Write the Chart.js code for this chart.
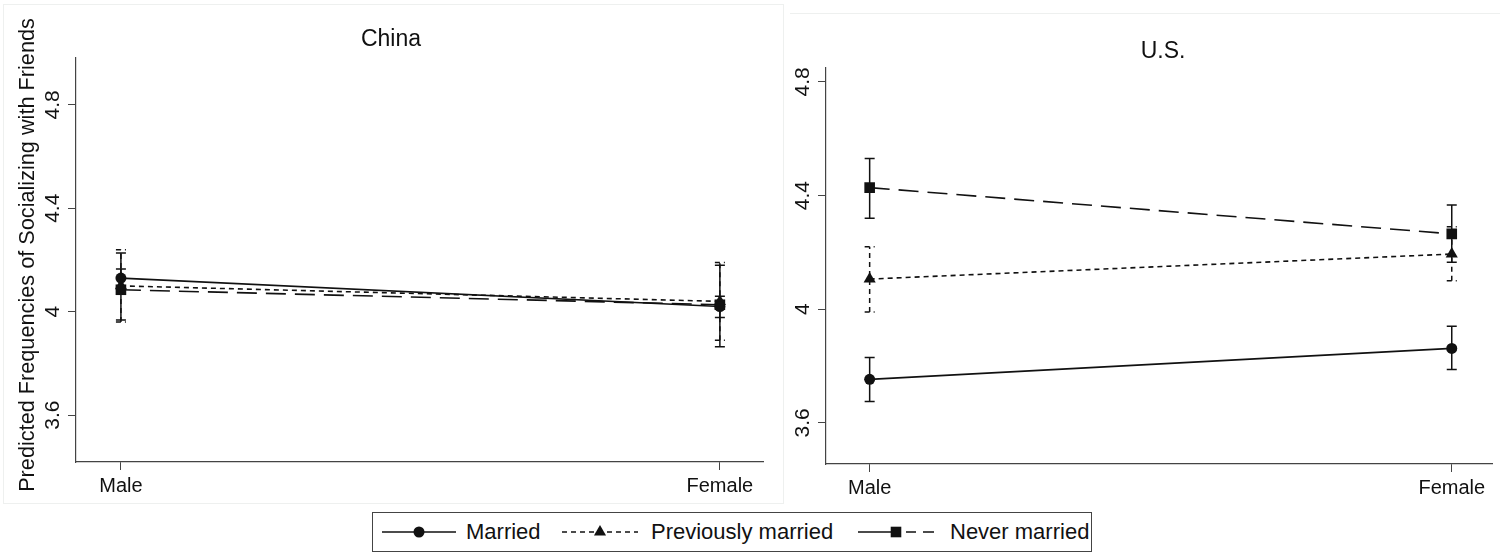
<!DOCTYPE html>
<html>
<head>
<meta charset="utf-8">
<script src="https://cdn.jsdelivr.net/npm/chart.js@4/dist/chart.umd.min.js"></script>
<style>
  html, body { margin: 0; padding: 0; background: #fff; }
  body { width: 1500px; height: 555px; position: relative; overflow: hidden;
         font-family: "Liberation Sans", Arial, Helvetica, sans-serif; color: #111; }
  .wrap { position: absolute; top: 0; height: 555px; }
  #chinaWrap { left: 0; width: 780px; }
  #usWrap { left: 780px; width: 720px; }
  .frame { position: absolute; box-sizing: border-box; }
  #chinaFrame { left: 3px; top: 4px; width: 781px; height: 500px; border: 1px solid #eef0ef; }
  #usFrame { left: 790px; top: 13px; width: 712px; height: 500px; border-top: 1px solid #eef0ef; }
  #legend { position: absolute; left: 372px; top: 512px; width: 720px; height: 40px;
            box-sizing: border-box; border: 1px solid #444; background: #fff; }
  #legend .item { position: absolute; top: 0; height: 38px; display: flex; align-items: center; }
  #legend .txt { font-size: 22px; white-space: nowrap; color: #111; }
  #legend canvas { display: block; }
</style>
</head>
<body>
<div class="frame" id="chinaFrame"></div>
<div class="frame" id="usFrame"></div>
<div class="wrap" id="chinaWrap"><canvas id="china" width="780" height="555"></canvas></div>
<div class="wrap" id="usWrap"><canvas id="us" width="720" height="555"></canvas></div>
<div id="legend"></div>
<script>
// Categories and tick labels
const categories = ['Male', 'Female'];
const yTicks = [3.6, 4, 4.4, 4.8];
const seriesNames = ['Married', 'Previously married', 'Never married'];
const yAxisTitle = 'Predicted Frequencies of Socializing with Friends';

// China: predicted values with 95% confidence limits
const chinaMarried   = [4.13, 4.02];
const chinaMarriedLo = [4.095, 3.978];
const chinaMarriedHi = [4.165, 4.06];
const chinaPrev      = [4.10, 4.04];
const chinaPrevLo    = [3.96, 3.89];
const chinaPrevHi    = [4.24, 4.19];
const chinaNever     = [4.085, 4.027];
const chinaNeverLo   = [3.968, 3.865];
const chinaNeverHi   = [4.227, 4.18];

// U.S.: predicted values with 95% confidence limits
const usMarried   = [3.753, 3.862];
const usMarriedLo = [3.675, 3.788];
const usMarriedHi = [3.83, 3.94];
const usPrev      = [4.106, 4.194];
const usPrevLo    = [3.99, 4.10];
const usPrevHi    = [4.22, 4.29];
const usNever     = [4.428, 4.265];
const usNeverLo   = [4.32, 4.165];
const usNeverHi   = [4.53, 4.367];

// Line styles for the three marital-status groups
const styles = [
  { dash: [], errDash: [], keyDash: [], point: 'circle', radius: 5.5 },
  { dash: [5, 4], errDash: [5, 4], keyDash: [5, 4], point: 'triangle', radius: 7 },
  { dash: [20, 9], errDash: [], keyDash: [43, 5, 10, 7, 12], point: 'rect', radius: 7.5 }
];

const INK = '#111';
const AXIS = '#444';
const FONT = '"Liberation Sans", Arial, Helvetica, sans-serif';

function buildDatasets(vals, los, his) {
  return vals.map((v, s) => ({
    label: seriesNames[s],
    data: v.map((y, i) => ({ x: i, y })),
    errLo: los[s],
    errHi: his[s],
    errDash: styles[s].errDash,
    borderColor: INK,
    backgroundColor: INK,
    borderWidth: 1.6,
    borderDash: styles[s].dash,
    pointStyle: styles[s].point,
    pointRadius: styles[s].radius,
    pointHoverRadius: styles[s].radius,
    pointBackgroundColor: INK,
    pointBorderColor: INK,
    pointBorderWidth: 0,
    tension: 0,
    fill: false
  }));
}

// Capped confidence intervals drawn beneath the lines and markers
const errorBars = {
  id: 'errorBars',
  beforeDatasetsDraw(chart) {
    const { ctx, scales: { x, y } } = chart;
    ctx.save();
    ctx.strokeStyle = INK;
    ctx.lineWidth = 1.5;
    chart.data.datasets.forEach(ds => {
      ctx.setLineDash(ds.errDash || []);
      ds.data.forEach((pt, i) => {
        const px = x.getPixelForValue(pt.x);
        const yl = y.getPixelForValue(ds.errLo[i]);
        const yh = y.getPixelForValue(ds.errHi[i]);
        ctx.beginPath();
        ctx.moveTo(px, yl); ctx.lineTo(px, yh);
        ctx.moveTo(px - 5, yl); ctx.lineTo(px + 5, yl);
        ctx.moveTo(px - 5, yh); ctx.lineTo(px + 5, yh);
        ctx.stroke();
      });
    });
    ctx.restore();
  }
};

// Vertical tick labels on the y axis, panel title and optional axis title
const decorations = {
  id: 'decorations',
  afterDraw(chart, args, opts) {
    const { ctx, scales: { y } } = chart;
    ctx.save();
    ctx.fillStyle = INK;
    ctx.font = '21px ' + FONT;
    ctx.textAlign = 'center';
    ctx.textBaseline = 'middle';
    y.ticks.forEach(t => {
      const py = y.getPixelForValue(t.value);
      ctx.save();
      ctx.translate(y.right - 23, py);
      ctx.rotate(-Math.PI / 2);
      ctx.fillText(String(t.value), 0, 0);
      ctx.restore();
    });
    ctx.font = '23px ' + FONT;
    ctx.fillText(opts.title, opts.titleX, opts.titleY);
    if (opts.axisTitle) {
      ctx.font = '21.7px ' + FONT;
      ctx.save();
      ctx.translate(opts.axisTitleX, opts.axisTitleY);
      ctx.rotate(-Math.PI / 2);
      ctx.fillText(opts.axisTitle, 0, 0);
      ctx.restore();
    }
    ctx.restore();
  }
};

function makePanel(id, g, datasets, deco) {
  return new Chart(document.getElementById(id), {
    type: 'line',
    data: { datasets },
    plugins: [errorBars, decorations],
    options: {
      responsive: false,
      animation: false,
      events: [],
      layout: { padding: { left: 0, right: g.padRight, top: g.top, bottom: g.padBottom } },
      plugins: {
        legend: { display: false },
        title: { display: false },
        tooltip: { enabled: false },
        decorations: deco
      },
      scales: {
        x: {
          type: 'linear',
          min: g.xMin, max: g.xMax,
          afterBuildTicks: s => { s.ticks = categories.map((c, i) => ({ value: i })); },
          afterFit: s => { s.height = g.xAxisHeight; },
          ticks: {
            callback: (v, i) => categories[i],
            autoSkip: false, maxRotation: 0, minRotation: 0,
            padding: 4, color: INK, font: { family: FONT, size: 20 }
          },
          grid: { drawOnChartArea: false, drawTicks: true, tickLength: 8, color: AXIS, lineWidth: 1 },
          border: { display: true, color: AXIS, width: 1.2 }
        },
        y: {
          type: 'linear',
          min: g.yMin, max: g.yMax,
          afterBuildTicks: s => { s.ticks = yTicks.map(v => ({ value: v })); },
          afterFit: s => { s.width = g.yAxisWidth; },
          ticks: { display: false },
          grid: { drawOnChartArea: false, drawTicks: true, tickLength: 8, color: AXIS, lineWidth: 1 },
          border: { display: true, color: AXIS, width: 1.2 }
        }
      }
    }
  });
}

makePanel('china',
  { top: 58, padRight: 17, padBottom: 555 - 462 - 48, xAxisHeight: 48, yAxisWidth: 76,
    xMin: -0.075, xMax: 1.072, yMin: 3.419, yMax: 4.981 },
  buildDatasets([chinaMarried, chinaPrev, chinaNever],
                [chinaMarriedLo, chinaPrevLo, chinaNeverLo],
                [chinaMarriedHi, chinaPrevHi, chinaNeverHi]),
  { title: 'China', titleX: 391, titleY: 40,
    axisTitle: yAxisTitle, axisTitleX: 28, axisTitleY: 255 });

makePanel('us',
  { top: 68, padRight: 2, padBottom: 555 - 464 - 48, xAxisHeight: 48, yAxisWidth: 46,
    xMin: -0.075, xMax: 1.07, yMin: 3.455, yMax: 4.849 },
  buildDatasets([usMarried, usPrev, usNever],
                [usMarriedLo, usPrevLo, usNeverLo],
                [usMarriedHi, usPrevHi, usNeverHi]),
  { title: 'U.S.', titleX: 383, titleY: 52 });

// Legend: line sample with marker, then the group name
(function buildLegend() {
  const legend = document.getElementById('legend');
  const layout = [
    { sx: 9, sw: 74, tx: 93 },
    { sx: 189, sw: 76, tx: 278 },
    { sx: 485, sw: 76, tx: 577 }
  ];
  seriesNames.forEach((name, s) => {
    const L = layout[s];
    const item = document.createElement('div');
    item.className = 'item';
    item.style.left = L.sx + 'px';
    const canvas = document.createElement('canvas');
    canvas.width = L.sw; canvas.height = 38;
    const c = canvas.getContext('2d');
    c.strokeStyle = INK; c.fillStyle = INK; c.lineWidth = 1.6;
    c.setLineDash(styles[s].keyDash);
    c.beginPath(); c.moveTo(0, 19); c.lineTo(L.sw, 19); c.stroke();
    c.setLineDash([]);
    const cx = L.sw / 2, cy = 19;
    c.beginPath();
    if (styles[s].point === 'circle') {
      c.arc(cx, cy, 5.5, 0, Math.PI * 2);
    } else if (styles[s].point === 'triangle') {
      const r = 7;
      c.moveTo(cx, cy - r);
      c.lineTo(cx + r * 0.866, cy + r * 0.5);
      c.lineTo(cx - r * 0.866, cy + r * 0.5);
      c.closePath();
    } else {
      c.rect(cx - 5.3, cy - 5.3, 10.6, 10.6);
    }
    c.fill();
    item.appendChild(canvas);
    legend.appendChild(item);
    const t = document.createElement('div');
    t.className = 'item txt';
    t.style.left = L.tx + 'px';
    t.textContent = name;
    legend.appendChild(t);
  });
})();
</script>
</body>
</html>
